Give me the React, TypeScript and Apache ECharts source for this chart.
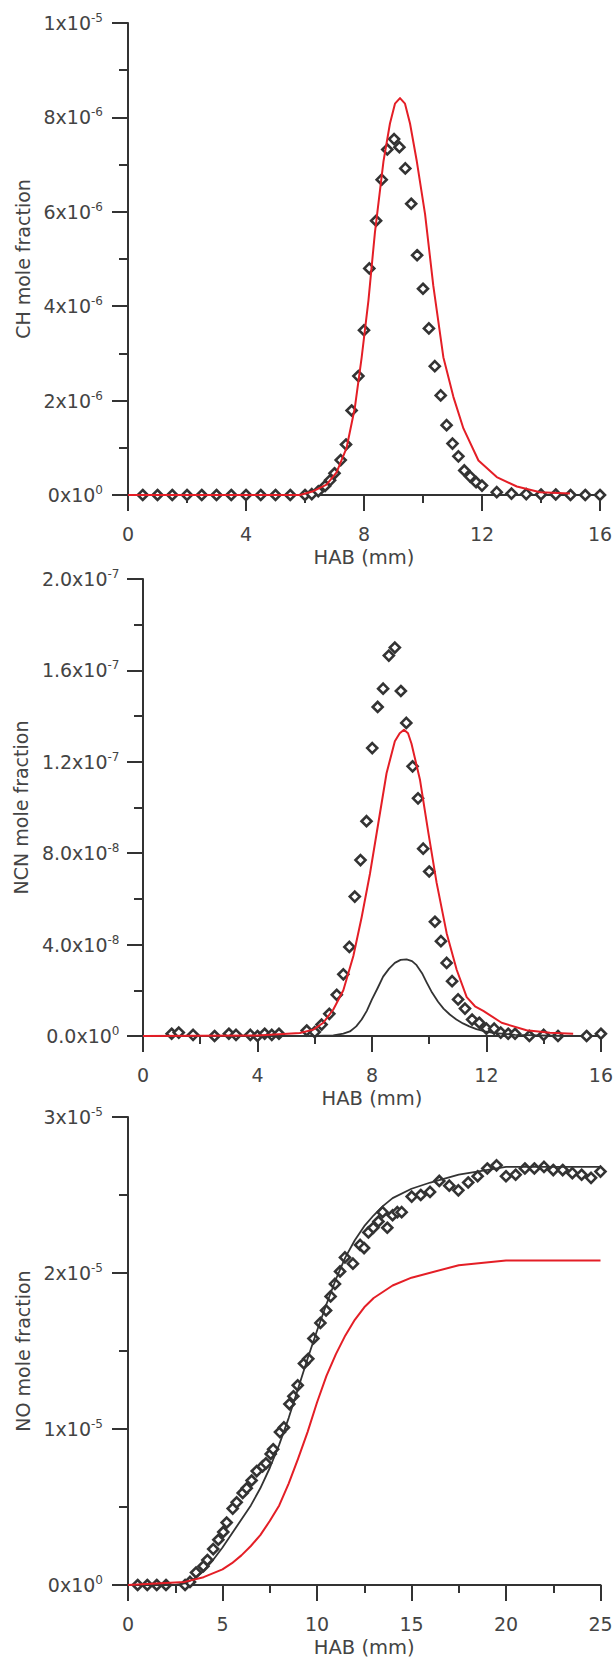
import React, { useEffect, useRef } from "react";
import * as echarts from "echarts";

// ---------- DATA ----------
// Panel 1: CH (values in units of 1e-6)
const chX = [0.5, 1, 1.5, 2, 2.5, 3, 3.5, 4, 4.5, 5, 5.5, 6.0, 6.23, 6.45, 6.68, 6.85, 7.0, 7.21, 7.39, 7.58, 7.81, 8.0, 8.18, 8.41, 8.6, 8.79, 9.02, 9.2, 9.4, 9.6, 9.8, 10.0, 10.2, 10.4, 10.6, 10.8, 11.0, 11.2, 11.4, 11.6, 11.8, 12.0, 12.5, 13.0, 13.5, 14.0, 14.5, 15.0, 15.5, 16.0];
const chY = [0, 0, 0, 0, 0, 0, 0, 0, 0, 0, 0, 0, 0.02, 0.08, 0.19, 0.31, 0.46, 0.74, 1.07, 1.79, 2.52, 3.49, 4.8, 5.81, 6.68, 7.32, 7.54, 7.37, 6.92, 6.17, 5.08, 4.37, 3.53, 2.73, 2.11, 1.48, 1.09, 0.82, 0.52, 0.39, 0.27, 0.2, 0.06, 0.03, 0.02, 0.01, 0.01, 0, 0, 0];
const chModelX = [0, 5.83, 6.28, 6.73, 7.07, 7.41, 7.69, 7.92, 8.15, 8.37, 8.66, 8.88, 9.05, 9.22, 9.39, 9.56, 9.79, 10.07, 10.35, 10.69, 11.03, 11.37, 11.88, 12.5, 13.18, 13.97, 14.98];
const chModelY = [0, 0, 0.08, 0.22, 0.48, 1.0, 1.85, 2.91, 4.12, 5.56, 7.07, 7.87, 8.29, 8.41, 8.29, 7.87, 7.07, 5.95, 4.43, 2.92, 2.08, 1.41, 0.73, 0.38, 0.18, 0.06, 0.03];
const chYTicks = ["0x10^0", "2x10^-6", "4x10^-6", "6x10^-6", "8x10^-6", "1x10^-5"];

// Panel 2: NCN (values in units of 1e-8)
const ncnX = [1.0, 1.25, 1.5, 1.75, 2.0, 2.25, 2.5, 2.75, 3.0, 3.25, 3.5, 3.75, 4.0, 4.25, 4.5, 4.75, 5.0, 5.25, 5.5, 5.72, 6.0, 6.24, 6.51, 6.77, 7.0, 7.21, 7.4, 7.6, 7.81, 8.01, 8.2, 8.39, 8.59, 8.8, 9.01, 9.2, 9.42, 9.61, 9.79, 10.0, 10.2, 10.41, 10.61, 10.8, 11.01, 11.25, 11.5, 11.75, 12.0, 12.27, 12.5, 12.76, 13.0, 13.5, 14.0, 14.5, 15.0, 15.5, 16.0];
const ncnY = [0.1, 0.15, -0.1, 0.05, -0.15, -0.1, 0.0, -0.05, 0.1, 0.05, -0.1, 0.05, 0.0, 0.1, 0.05, 0.1, -0.1, -0.2, -0.05, 0.24, 0.17, 0.5, 0.97, 1.8, 2.7, 3.9, 6.1, 7.7, 9.4, 12.6, 14.4, 15.2, 16.65, 17.0, 15.1, 13.7, 11.8, 10.4, 8.2, 7.2, 5.0, 4.15, 3.2, 2.4, 1.6, 1.2, 0.72, 0.58, 0.32, 0.32, 0.15, 0.1, 0.1, 0.0, 0.05, 0.0, -0.05, 0.0, 0.1];
const ncnRedX = [0, 4.0, 5.48, 5.95, 6.3, 6.65, 7.0, 7.35, 7.64, 7.93, 8.22, 8.51, 8.8, 8.97, 9.12, 9.26, 9.38, 9.68, 9.97, 10.26, 10.61, 10.96, 11.31, 11.6, 11.89, 12.53, 13.4, 14.22, 15.03];
const ncnRedY = [0, 0.02, 0.13, 0.28, 0.58, 1.16, 2.0, 3.5, 5.2, 7.1, 9.3, 11.5, 12.9, 13.25, 13.4, 13.25, 12.8, 11.2, 8.9, 6.7, 4.5, 2.9, 1.7, 1.3, 1.1, 0.58, 0.25, 0.14, 0.1];
const ncnBlackX = [0, 6.0, 6.65, 7.0, 7.23, 7.45, 7.64, 7.82, 8.0, 8.2, 8.39, 8.6, 8.8, 9.0, 9.21, 9.4, 9.56, 9.75, 9.91, 10.1, 10.31, 10.5, 10.72, 10.95, 11.18, 11.4, 11.65, 11.95, 12.23, 13.0, 14.75];
const ncnBlackY = [0, 0, 0.03, 0.1, 0.2, 0.42, 0.72, 1.1, 1.6, 2.1, 2.6, 2.95, 3.2, 3.33, 3.35, 3.28, 3.1, 2.75, 2.35, 1.9, 1.5, 1.2, 0.94, 0.72, 0.55, 0.42, 0.3, 0.2, 0.14, 0.05, 0];
const ncnYTicks = ["0.0x10^0", "4.0x10^-8", "8.0x10^-8", "1.2x10^-7", "1.6x10^-7", "2.0x10^-7"];

// Panel 3: NO (values in units of 1e-5)
const noX = [0.51, 1.02, 1.52, 2.01, 2.54, 3.02, 3.28, 3.6, 3.99, 4.2, 4.51, 4.78, 5.04, 5.22, 5.54, 5.75, 6.07, 6.28, 6.54, 6.81, 7.12, 7.3, 7.55, 7.68, 8.04, 8.25, 8.54, 8.75, 8.98, 9.31, 9.54, 9.81, 10.18, 10.48, 10.72, 10.95, 11.22, 11.48, 11.9, 12.28, 12.49, 12.72, 12.98, 13.25, 13.47, 13.72, 14.0, 14.25, 14.48, 15.01, 15.49, 15.98, 16.47, 17.0, 17.48, 18.0, 18.5, 19.01, 19.5, 20.0, 20.51, 21.0, 21.5, 22.01, 22.5, 23.0, 23.51, 24.0, 24.5, 25.0];
const noY = [0, 0, 0, 0, -0.01, 0, 0.02, 0.08, 0.12, 0.16, 0.23, 0.29, 0.34, 0.4, 0.49, 0.53, 0.59, 0.62, 0.67, 0.73, 0.76, 0.78, 0.84, 0.87, 0.98, 1.01, 1.16, 1.21, 1.28, 1.42, 1.45, 1.58, 1.68, 1.76, 1.85, 1.93, 2.01, 2.1, 2.06, 2.18, 2.16, 2.26, 2.29, 2.33, 2.39, 2.29, 2.37, 2.39, 2.39, 2.49, 2.5, 2.52, 2.59, 2.56, 2.53, 2.58, 2.62, 2.67, 2.69, 2.62, 2.63, 2.67, 2.67, 2.68, 2.66, 2.66, 2.64, 2.63, 2.61, 2.65];
const noBlackX = [0, 2.5, 3.0, 3.5, 4.0, 4.5, 5.0, 5.5, 6.0, 6.5, 7.0, 7.5, 8.0, 8.5, 9.0, 9.5, 10.0, 10.5, 11.0, 11.5, 12.0, 12.5, 13.0, 13.5, 14.0, 15.0, 16.0, 17.5, 20.0, 25.0];
const noBlackY = [0, 0, 0.01, 0.04, 0.09, 0.16, 0.24, 0.33, 0.42, 0.51, 0.62, 0.75, 0.9, 1.07, 1.26, 1.45, 1.63, 1.8, 1.96, 2.1, 2.21, 2.3, 2.37, 2.43, 2.48, 2.54, 2.58, 2.63, 2.68, 2.68];
const noRedX = [0, 3.0, 4.0, 5.0, 5.5, 6.0, 6.5, 7.0, 7.5, 8.0, 8.5, 9.0, 9.5, 10.0, 10.5, 11.0, 11.5, 12.0, 12.5, 13.0, 14.0, 15.0, 17.5, 20.0, 25.0];
const noRedY = [0, 0.02, 0.05, 0.1, 0.14, 0.19, 0.25, 0.32, 0.41, 0.51, 0.65, 0.81, 0.98, 1.17, 1.34, 1.48, 1.6, 1.7, 1.78, 1.84, 1.92, 1.97, 2.05, 2.08, 2.08];
const noYTicks = ["0x10^0", "1x10^-5", "2x10^-5", "3x10^-5"];

const xTitle = "HAB (mm)";
const yTitles = ["CH mole fraction", "NCN mole fraction", "NO mole fraction"];

// ---------- STYLE ----------
const FONT = "DejaVu Sans";
const AXIS = "#333333";
const TXT = "#444444";
const RED = "#e41e26";
const DARK = "#333333";

const zip = (xs: number[], ys: number[]) => xs.map((x, i) => [x, ys[i]]);

function xAxisCfg(gridIndex: number, max: number, interval: number) {
  return {
    type: "value",
    gridIndex,
    min: 0,
    max,
    interval,
    name: xTitle,
    nameLocation: "middle",
    nameGap: 52,
    nameTextStyle: { fontFamily: FONT, fontSize: 19.5, color: TXT },
    axisLine: { show: true, onZero: false, lineStyle: { color: AXIS, width: 2 } },
    axisTick: { show: true, length: 16, lineStyle: { color: AXIS, width: 2 } },
    minorTick: { show: true, splitNumber: 2, length: 8, lineStyle: { color: AXIS, width: 2 } },
    splitLine: { show: false },
    minorSplitLine: { show: false },
    axisLabel: { margin: 29, fontFamily: FONT, fontSize: 19, color: TXT },
  };
}

function yAxisCfg(gridIndex: number, max: number, interval: number, labels: string[], name: string, nameGap: number, margin: number) {
  return {
    type: "value",
    gridIndex,
    min: 0,
    max,
    interval,
    name,
    nameLocation: "middle",
    nameGap,
    nameTextStyle: { fontFamily: FONT, fontSize: 19, color: TXT },
    axisLine: { show: true, onZero: false, lineStyle: { color: AXIS, width: 2 } },
    axisTick: { show: true, length: 16, lineStyle: { color: AXIS, width: 2 } },
    minorTick: { show: true, splitNumber: 2, length: 9, lineStyle: { color: AXIS, width: 2 } },
    splitLine: { show: false },
    minorSplitLine: { show: false },
    axisLabel: {
      margin,
      formatter: (v: number) => {
        const s = labels[Math.round(v / interval)] || "";
        const [m, e] = s.split("^");
        return `{m|${m}}{e|${e}}`;
      },
      rich: {
        m: { fontFamily: FONT, fontSize: 19, color: TXT, lineHeight: 22 },
        e: { fontFamily: FONT, fontSize: 12, color: TXT, lineHeight: 12, verticalAlign: "top" },
      },
    },
  };
}

function scatter(idx: number, xs: number[], ys: number[]) {
  return {
    type: "scatter",
    xAxisIndex: idx,
    yAxisIndex: idx,
    data: zip(xs, ys),
    symbol: "diamond",
    symbolSize: 10,
    itemStyle: { color: "#ffffff", borderColor: DARK, borderWidth: 2.6, opacity: 1 },
    z: 2,
    silent: true,
  };
}

function line(idx: number, xs: number[], ys: number[], color: string, width: number) {
  return {
    type: "line",
    xAxisIndex: idx,
    yAxisIndex: idx,
    data: zip(xs, ys),
    showSymbol: false,
    symbol: "none",
    smooth: false,
    lineStyle: { color, width, join: "round" },
    z: 3,
    silent: true,
  };
}

export default function App() {
  const ref = useRef<HTMLDivElement>(null);
  useEffect(() => {
    if (!ref.current) return;
    const chart = echarts.init(ref.current, null, { renderer: "svg" });
    chart.setOption({
      animation: false,
      backgroundColor: "#ffffff",
      grid: [
        { left: 128, top: 23, width: 472, height: 472 },
        { left: 143, top: 579, width: 459, height: 457 },
        { left: 128, top: 1117, width: 472.5, height: 473 },
      ],
      xAxis: [xAxisCfg(0, 16, 4), xAxisCfg(1, 16, 4), xAxisCfg(2, 25, 5)],
      yAxis: [
        yAxisCfg(0, 10, 2, chYTicks, yTitles[0], 94, 25),
        yAxisCfg(1, 20, 4, ncnYTicks, yTitles[1], 109, 23.5),
        yAxisCfg(2, 3, 1, noYTicks, yTitles[2], 94, 25),
      ],
      series: [
        scatter(0, chX, chY),
        line(0, chModelX, chModelY, RED, 2),
        scatter(1, ncnX, ncnY),
        line(1, ncnBlackX, ncnBlackY, DARK, 1.8),
        line(1, ncnRedX, ncnRedY, RED, 2),
        scatter(2, noX, noY),
        line(2, noBlackX, noBlackY, DARK, 1.8),
        line(2, noRedX, noRedY, RED, 2),
      ],
    });
    return () => chart.dispose();
  }, []);
  return (
    <div
      ref={ref}
      style={{ position: "absolute", left: 0, top: 0, width: 616, height: 1658, background: "#fff" }}
    />
  );
}
